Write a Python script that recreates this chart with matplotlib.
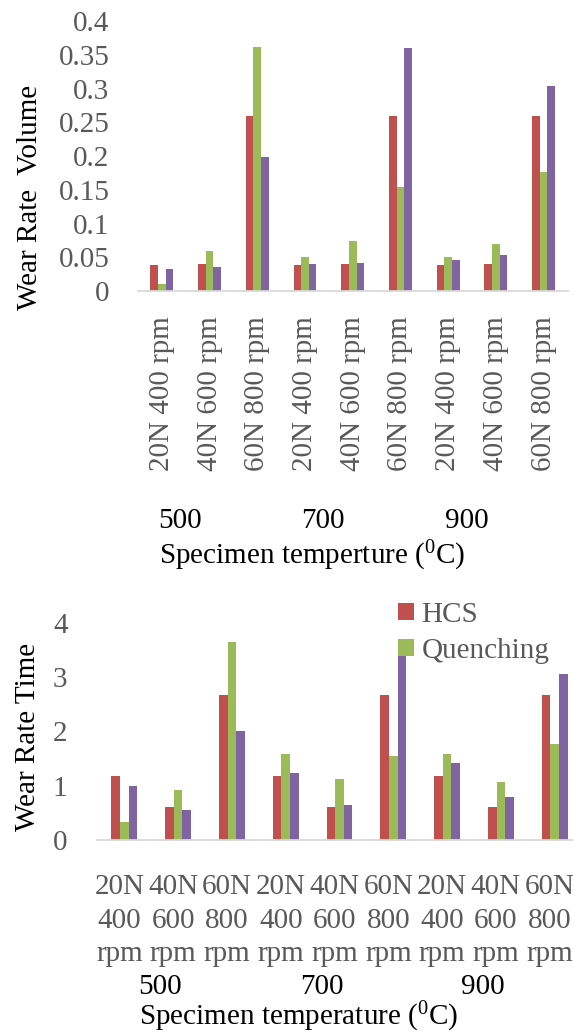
import matplotlib
matplotlib.use("Agg")
import matplotlib.pyplot as plt
import matplotlib.transforms as mtransforms
import numpy as np

plt.rcParams['font.family'] = ['Liberation Serif', 'DejaVu Serif']
plt.rcParams['mathtext.fontset'] = 'custom'
plt.rcParams['mathtext.rm'] = 'Liberation Serif'
plt.rcParams['mathtext.it'] = 'Liberation Serif:italic'

# ---------------- data ----------------
conditions_top = ["20N 400 rpm", "40N 600 rpm", "60N 800 rpm",
                  "20N 400 rpm", "40N 600 rpm", "60N 800 rpm",
                  "20N 400 rpm", "40N 600 rpm", "60N 800 rpm"]
conditions_bottom = ["20N\n400\nrpm", "40N\n600\nrpm", "60N\n800\nrpm",
                     "20N\n400\nrpm", "40N\n600\nrpm", "60N\n800\nrpm",
                     "20N\n400\nrpm", "40N\n600\nrpm", "60N\n800\nrpm"]
temperatures = ["500", "700", "900"]
series_names = ["HCS", "Quenching", "Series3"]

vol_hcs = [0.039, 0.040, 0.260, 0.039, 0.040, 0.260, 0.039, 0.040, 0.260]
vol_quench = [0.010, 0.060, 0.362, 0.051, 0.074, 0.154, 0.051, 0.070, 0.176]
vol_third = [0.033, 0.036, 0.199, 0.040, 0.042, 0.361, 0.046, 0.053, 0.304]

time_hcs = [1.18, 0.61, 2.67, 1.18, 0.61, 2.67, 1.18, 0.61, 2.67]
time_quench = [0.34, 0.92, 3.64, 1.58, 1.12, 1.54, 1.58, 1.06, 1.77]
time_third = [0.99, 0.55, 2.00, 1.23, 0.64, 3.62, 1.42, 0.80, 3.06]

vol_ticks = [0, 0.05, 0.1, 0.15, 0.2, 0.25, 0.3, 0.35, 0.4]
vol_ticklabels = ["0", "0.05", "0.1", "0.15", "0.2", "0.25", "0.3", "0.35", "0.4"]
time_ticks = [0, 1, 2, 3, 4]

colors = ["#C0504D", "#9BBB59", "#8064A2"]
tick_gray = "#595959"
axis_gray = "#D9D9D9"
FS = 21

W, H = 573, 1035
fig = plt.figure(figsize=(W / 100, H / 100), dpi=100)


def px_axes(left, right, top, bottom):
    return fig.add_axes([left / W, 1 - bottom / H, (right - left) / W, (bottom - top) / H])


def style(ax):
    for s in ["top", "right", "left"]:
        ax.spines[s].set_visible(False)
    ax.spines["bottom"].set_color(axis_gray)
    ax.spines["bottom"].set_linewidth(1.3)


x = np.arange(len(conditions_top))
bw = 0.16

# ---------------- top panel ----------------
ax1 = px_axes(138, 567.5, 21.4, 291)
for i, (vals, c) in enumerate(zip([vol_hcs, vol_quench, vol_third], colors)):
    ax1.bar(x + (i - 1) * bw, vals, bw, color=c, label=series_names[i], linewidth=0)
ax1.set_xlim(-0.5, len(x) - 0.5)
ax1.set_ylim(0, 0.4)
ax1.set_yticks(vol_ticks)
ax1.set_yticklabels(vol_ticklabels)
ax1.set_xticks(x)
ax1.set_xticklabels(conditions_top, rotation=90, va="top", ha="center")
ax1.tick_params(axis="y", length=0, pad=20.5, labelcolor=tick_gray, labelsize=FS)
ax1.tick_params(axis="x", length=0, pad=18.0, labelcolor=tick_gray, labelsize=FS)
style(ax1)
tr1 = mtransforms.blended_transform_factory(ax1.transData, fig.transFigure)
for g, t in enumerate(temperatures):
    ax1.text(3 * g + 1 - 0.62, 1 - 521 / H, t, transform=tr1, ha="center", va="center",
             fontsize=FS, color="black")
fig.text(311.7 / W, 1 - 556 / H, r"Specimen temperture ($^{\mathrm{0}}$C)", ha="center",
         va="center", fontsize=FS, color="black")
fig.text(30 / W, 1 - 197 / H, "Wear Rate  Volume", rotation=90, ha="center", va="center",
         fontsize=FS, color="black")

# ---------------- bottom panel ----------------
ax2 = px_axes(97.4, 581.6, 622.6, 840)
bars = []
for i, (vals, c) in enumerate(zip([time_hcs, time_quench, time_third], colors)):
    b = ax2.bar(x + (i - 1) * bw, vals, bw, color=c, label=series_names[i], linewidth=0)
    bars.append(b)
ax2.set_xlim(-0.5, len(x) - 0.5)
ax2.set_ylim(0, 4)
ax2.set_yticks(time_ticks)
ax2.set_xticks(x)
ax2.set_xticklabels(conditions_bottom, va="top", ha="center", linespacing=1.38)
ax2.tick_params(axis="y", length=0, pad=21.5, labelcolor=tick_gray, labelsize=FS)
ax2.tick_params(axis="x", length=0, pad=24.5, labelcolor=tick_gray, labelsize=FS)
shift = mtransforms.ScaledTranslation(-5 / 100, 0, fig.dpi_scale_trans)
for lab in ax2.get_xticklabels():
    lab.set_transform(lab.get_transform() + shift)
style(ax2)
tr2 = mtransforms.blended_transform_factory(ax2.transData, fig.transFigure)
for g, t in enumerate(temperatures):
    ax2.text(3 * g + 1 - 0.33, 1 - 987 / H, t, transform=tr2, ha="center", va="center",
             fontsize=FS, color="black")
fig.text(299 / W, 1 - 1017 / H, r"Specimen temperature ($^{\mathrm{0}}$C)", ha="center",
         va="center", fontsize=FS, color="black")
fig.text(28 / W, 1 - 737 / H, "Wear Rate Time", rotation=90, ha="center", va="center",
         fontsize=FS, color="black")

leg = fig.legend(handles=[bars[0], bars[1]], labels=series_names[:2], loc="upper left",
                 bbox_to_anchor=(398 / W, 1 - 602 / H), frameon=False, fontsize=FS,
                 handlelength=0.55, handleheight=0.55, handletextpad=0.25,
                 labelspacing=0.34, borderpad=0, borderaxespad=0)
for t in leg.get_texts():
    t.set_color(tick_gray)

fig.savefig("out.png", dpi=100)
